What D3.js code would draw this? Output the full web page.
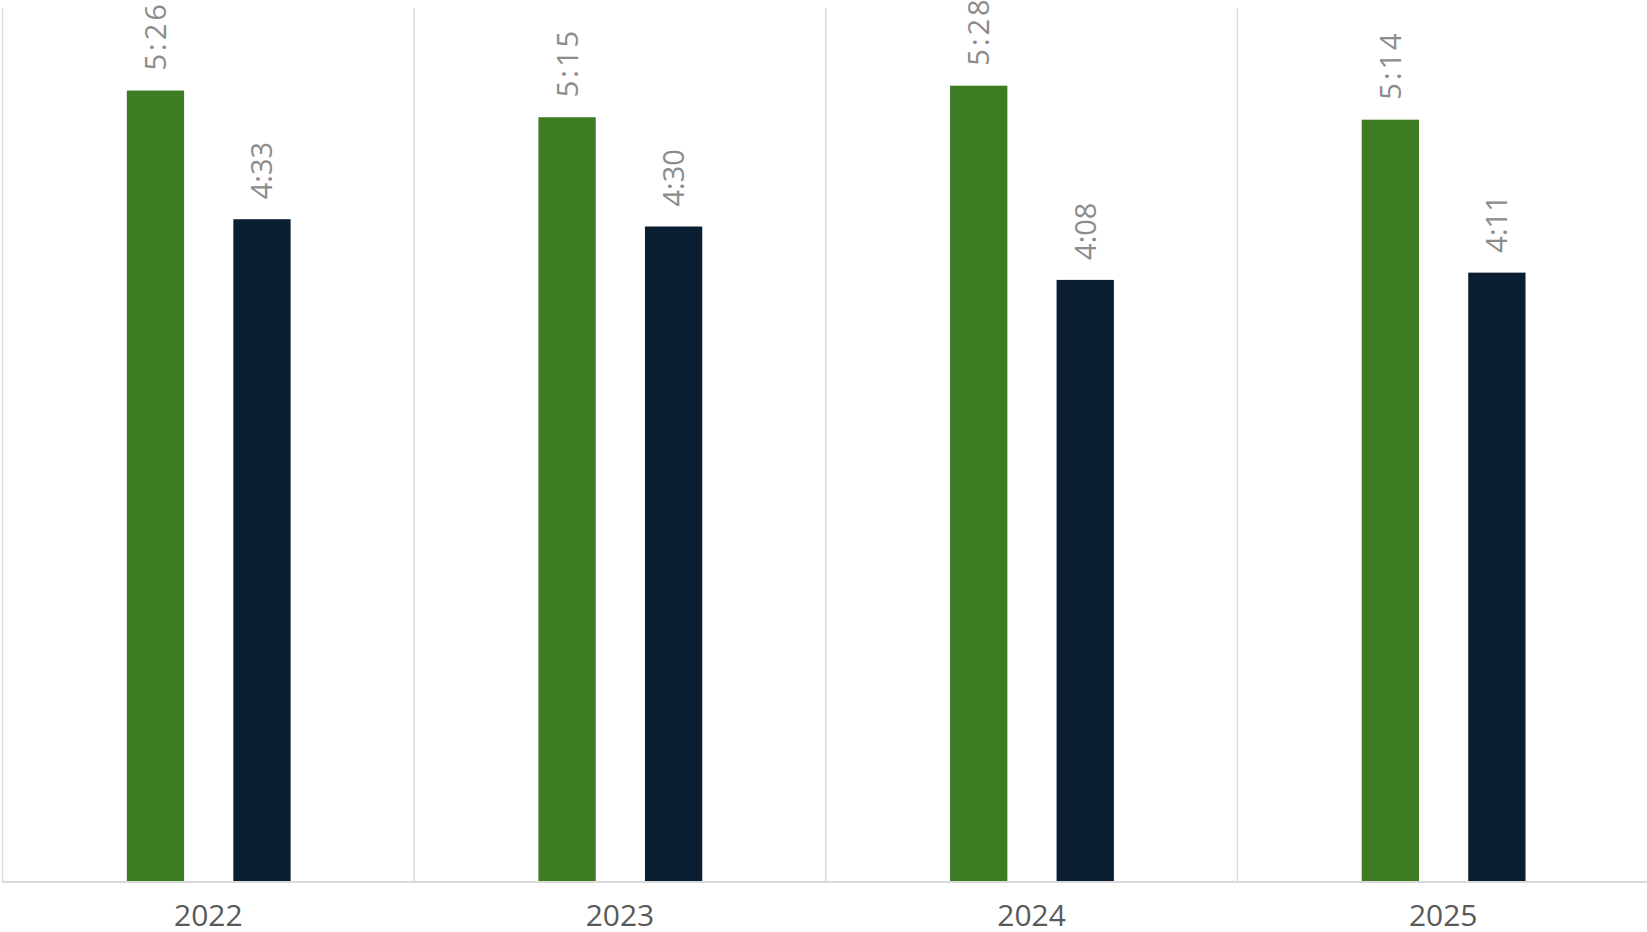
<!DOCTYPE html>
<html>
<head>
<meta charset="utf-8">
<script src="https://cdn.jsdelivr.net/npm/d3@7/dist/d3.min.js"></script>
<style>
  html, body { margin: 0; padding: 0; background: #ffffff; }
  svg { display: block; }
</style>
</head>
<body>
<svg id="chart" width="1647" height="932"></svg>
<script>
const categories = ["2022", "2023", "2024", "2025"];
const seriesNames = ["A", "B"];
const seriesA = ["5:26", "5:15", "5:28", "5:14"];
const seriesB = ["4:33", "4:30", "4:08", "4:11"];
const colors = ["#3d7c23", "#0b1f33"];

const toMin = s => { const [h, m] = s.split(":").map(Number); return h * 60 + m; };

const W = 1647, H = 932;
const margin = { left: 2.5, right: -2, top: 8, bottom: 50 };
const plotR = W - margin.right;
const plotB = H - margin.bottom;

const svg = d3.select("#chart");

const x = d3.scaleBand().domain(categories).range([margin.left, plotR]).paddingInner(0).paddingOuter(0);
const bw = x.bandwidth();
const xs = d3.scaleBand().domain(seriesNames).range([bw * 0.302, bw * 0.700]).paddingInner(0.462).paddingOuter(0);
const y = d3.scaleLinear().domain([0, 360]).range([plotB, margin.top]);

// vertical gridlines at category boundaries
const bounds = categories.map(c => x(c)).concat([x(categories[categories.length - 1]) + bw]);
svg.append("g").selectAll("line").data(bounds).join("line")
  .attr("x1", d => d).attr("x2", d => d)
  .attr("y1", margin.top).attr("y2", plotB)
  .attr("stroke", "#d9d9d9").attr("stroke-width", 1.5);

const data = [];
categories.forEach((c, i) => {
  data.push({ cat: c, s: "A", label: seriesA[i], v: toMin(seriesA[i]), color: colors[0] });
  data.push({ cat: c, s: "B", label: seriesB[i], v: toMin(seriesB[i]), color: colors[1] });
});

svg.append("g").selectAll("rect").data(data).join("rect")
  .attr("x", d => x(d.cat) + xs(d.s))
  .attr("y", d => y(d.v))
  .attr("width", xs.bandwidth())
  .attr("height", d => y(0) - y(d.v))
  .attr("fill", d => d.color);

// baseline
svg.append("line")
  .attr("x1", margin.left).attr("x2", plotR)
  .attr("y1", plotB).attr("y2", plotB)
  .attr("stroke", "#d9d9d9").attr("stroke-width", 2);

// data labels
svg.append("g").selectAll("text").data(data).join("text")
  .attr("transform", d => `translate(${x(d.cat) + xs(d.s) + xs.bandwidth() / 2},${y(d.v) - 20}) rotate(-90)`)
  .attr("text-anchor", "start")
  .attr("dy", "0.36em")
  .attr("font-family", "'Open Sans', sans-serif")
  .attr("font-size", 29)
  .attr("letter-spacing", d => d.s === "A" ? "3px" : "0px")
  .attr("fill", "#8c8c8c")
  .text(d => d.label);

// category axis labels
const xAxis = d3.axisBottom(x).tickSize(0).tickPadding(0);
const gx = svg.append("g").attr("transform", `translate(0,${plotB})`).call(xAxis);
gx.select(".domain").remove();
gx.selectAll("text")
  .attr("y", 44)
  .attr("dy", 0)
  .attr("font-family", "'Open Sans', sans-serif")
  .attr("font-size", 30)
  .attr("fill", "#595959");
</script>
</body>
</html>
